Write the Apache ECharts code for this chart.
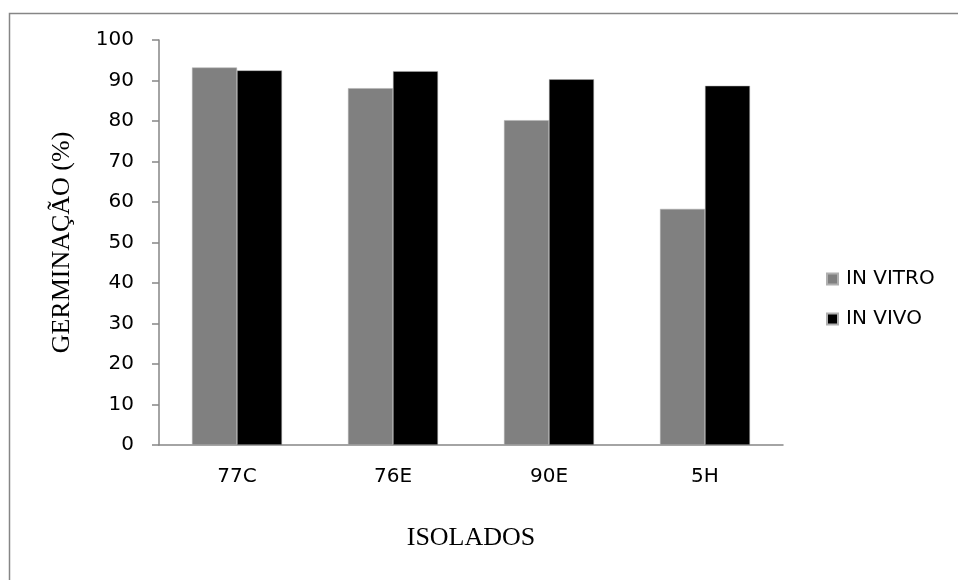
<!DOCTYPE html>
<html><head><meta charset="utf-8">
<script src="https://cdn.jsdelivr.net/npm/echarts@6/dist/echarts.min.js"></script>
<style>html,body{margin:0;padding:0;background:#fff}#c{width:958px;height:580px}</style>
</head><body><div id="c"></div>
<script>
const categories = ['77C', '76E', '90E', '5H'];
const inVitro = [93.2, 88.1, 80.2, 58.3];
const inVivo = [92.5, 92.3, 90.3, 88.7];
const seriesNames = ['IN VITRO', 'IN VIVO'];

const axisColor = '#868686';
const chart = echarts.init(document.getElementById('c'));
chart.setOption({
  animation: false,
  backgroundColor: '#fff',
  graphic: [{
    type: 'rect', left: 7, top: 11,
    shape: { width: 1000, height: 620 },
    style: { fill: 'none', stroke: axisColor, lineWidth: 1.5 }
  }],
  grid: { left: 159, top: 40, right: 175, bottom: 135 },
  legend: {
    orient: 'vertical', left: 821, top: 264, itemGap: 20,
    itemWidth: 11, itemHeight: 11, icon: 'rect',
    textStyle: { fontFamily: 'DejaVu Sans', fontSize: 20, color: '#000', padding: [0, 0, 0, 3] },
    data: seriesNames
  },
  xAxis: {
    type: 'category', data: categories,
    name: 'ISOLADOS', nameLocation: 'middle', nameGap: 80,
    nameTextStyle: { fontFamily: 'Liberation Serif', fontSize: 26, color: '#000' },
    axisLine: { lineStyle: { color: axisColor, width: 1.5 } },
    axisTick: { length: 8, lineStyle: { color: axisColor, width: 1.5 } },
    axisLabel: { fontFamily: 'DejaVu Sans', fontSize: 20, color: '#000', margin: 22 }
  },
  yAxis: {
    type: 'value', min: 0, max: 100, interval: 10,
    name: 'GERMINAÇÃO (%)', nameLocation: 'middle', nameGap: 84, nameRotate: 90,
    nameTextStyle: { fontFamily: 'Liberation Serif', fontSize: 26, color: '#000' },
    splitLine: { show: false },
    axisLine: { show: true, lineStyle: { color: axisColor, width: 1.5 } },
    axisTick: { show: true, length: 7, lineStyle: { color: axisColor, width: 1.5 } },
    axisLabel: { fontFamily: 'DejaVu Sans', fontSize: 20, color: '#000', margin: 25 }
  },
  series: [
    { name: seriesNames[0], type: 'bar', data: inVitro, barWidth: 45, barGap: '0%',
      itemStyle: { color: '#808080', borderColor: '#b0b0b0', borderWidth: 0.5 } },
    { name: seriesNames[1], type: 'bar', data: inVivo, barWidth: 45, barGap: '0%',
      itemStyle: { color: '#000000', borderColor: '#b0b0b0', borderWidth: 0.5 } }
  ]
});
</script></body></html>
